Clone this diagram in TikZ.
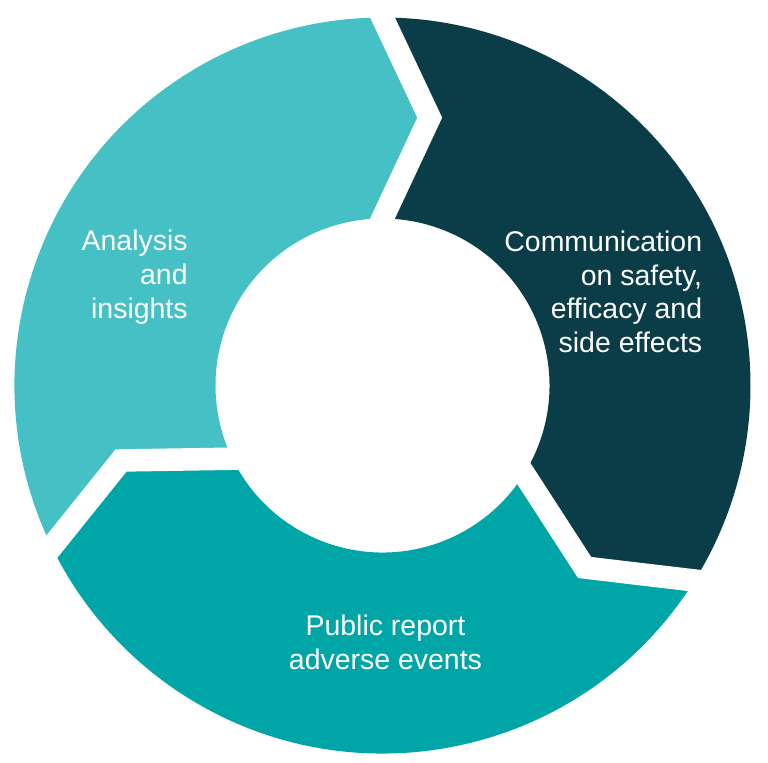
\documentclass[tikz,border=0pt]{standalone}
\usepackage{fontspec}
\setmainfont{Liberation Sans}
\definecolor{cycLight}{HTML}{45C1C6}
\definecolor{cycDark}{HTML}{0A3D47}
\definecolor{cycTeal}{HTML}{00A5A8}
\newcommand{\ro}{368}
\newcommand{\ri}{167}
\newcommand{\rmid}{272}

\begin{document}
\begin{tikzpicture}[x=0.02cm, y=0.02cm,
    gap/.style={draw=white, line width=0.45cm, line join=miter,
      shorten <=-0.3cm, shorten >=-0.3cm},
    lbl/.style={text=white, inner sep=0pt,
      font=\fontsize{16.2pt}{19.1pt}\selectfont}]
  \useasboundingbox (-382.5,-376.5) rectangle (385.5,385.5);

  % ring segments, clockwise
  \fill[cycLight] (206:\ro) arc[start angle=206, end angle=90, radius=\ro]
    -- (80:\rmid) -- (90:\ri) arc[start angle=90, end angle=206, radius=\ri]
    -- (196:\rmid) -- cycle;
  \fill[cycDark] (90:\ro) arc[start angle=90, end angle=-32, radius=\ro]
    -- (-42:\rmid) -- (-32:\ri) arc[start angle=-32, end angle=90, radius=\ri]
    -- (80:\rmid) -- cycle;
  \fill[cycTeal] (-32:\ro) arc[start angle=-32, end angle=-154, radius=\ro]
    -- (-164:\rmid) -- (-154:\ri) arc[start angle=-154, end angle=-32, radius=\ri]
    -- (-42:\rmid) -- cycle;

  % white gaps between the arrows
  \foreach \a in {90,-32,206}
    \draw[gap] (\a:\ro) -- (\a-10:\rmid) -- (\a:\ri);

  \node[lbl, align=right, anchor=north east] (analysis) at (-194.5,155.5)
    {Analysis\\and\\insights};
  \node[lbl, align=right, anchor=north east] (communication) at (320,155)
    {Communication\\on safety,\\efficacy and\\side effects};
  \node[lbl, align=center, anchor=north] (report) at (3,-229.5)
    {Public report\\adverse events};
\end{tikzpicture}
\end{document}
